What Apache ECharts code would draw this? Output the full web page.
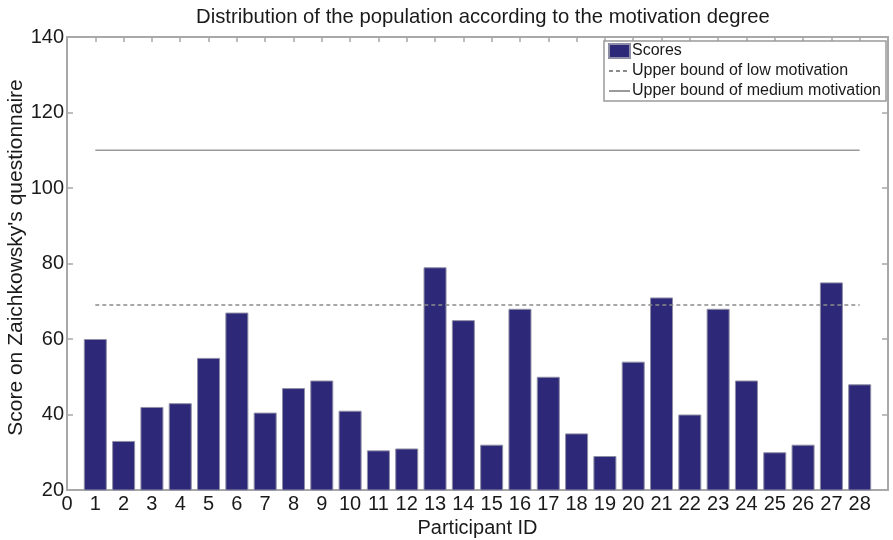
<!DOCTYPE html>
<html>
<head>
<meta charset="utf-8">
<script src="https://cdn.jsdelivr.net/npm/echarts@6/dist/echarts.min.js"></script>
<style>
  html, body { margin: 0; padding: 0; background: #fff; }
  #chart { width: 893px; height: 540px; }
</style>
</head>
<body>
<div id="chart"></div>
<script>
// Participant IDs and their Zaichkowsky questionnaire scores
const participants = [1, 2, 3, 4, 5, 6, 7, 8, 9, 10, 11, 12, 13, 14, 15, 16, 17, 18, 19, 20, 21, 22, 23, 24, 25, 26, 27, 28];
const scores = [60, 33, 42, 43, 55, 67, 40.5, 47, 49, 41, 30.5, 31, 79, 65, 32, 68, 50, 35, 29, 54, 71, 40, 68, 49, 30, 32, 75, 48];

// Motivation thresholds, drawn from the first to the last participant
const lowBound = 69;
const mediumBound = 110;
const boundSpan = [1, 28];

// Axis settings
const xTicks = [0, 28];
const yTicks = [20, 140];

const FONT = '"Liberation Sans", Arial, sans-serif';
const AXIS_GREY = '#a8a8a8';
const TEXT = '#1a1a1a';

const barData = participants.map((p, i) => [p, scores[i]]);
const lowLine = boundSpan.map(x => [x, lowBound]);
const midLine = boundSpan.map(x => [x, mediumBound]);

function xAxisCfg(pos, showLabels) {
  return {
    type: 'value', position: pos, min: xTicks[0], max: xTicks[1] + 1, interval: 1,
    axisLine: { show: true, onZero: false, lineStyle: { color: AXIS_GREY, width: 2 } },
    axisTick: { show: true, inside: true, length: 5, lineStyle: { color: AXIS_GREY, width: 1.5 } },
    axisLabel: {
      show: showLabels, color: TEXT, fontFamily: FONT, fontSize: 20, margin: 4,
      formatter: v => (v <= xTicks[1] ? String(v) : '')
    },
    splitLine: { show: false }
  };
}
function yAxisCfg(pos, showLabels) {
  return {
    type: 'value', position: pos, min: yTicks[0], max: yTicks[1], interval: 20,
    axisLine: { show: true, onZero: false, lineStyle: { color: AXIS_GREY, width: 2 } },
    axisTick: { show: true, inside: true, length: 6, lineStyle: { color: AXIS_GREY, width: 1.5 } },
    axisLabel: { show: showLabels, color: TEXT, fontFamily: FONT, fontSize: 20, margin: 3 },
    splitLine: { show: false }
  };
}

const xBottom = xAxisCfg('bottom', true);
xBottom.name = 'Participant ID';
xBottom.nameLocation = 'middle';
xBottom.nameGap = 24;
xBottom.nameTextStyle = { color: TEXT, fontFamily: FONT, fontSize: 20 };

const yLeft = yAxisCfg('left', true);
yLeft.name = "Score on Zaichkowsky's questionnaire";
yLeft.nameLocation = 'middle';
yLeft.nameRotate = 90;
yLeft.nameGap = 40;
yLeft.nameMoveOverlap = false;
yLeft.nameTextStyle = { color: TEXT, fontFamily: FONT, fontSize: 21, padding: [0, 0, 0, 12] };

// Hides the marker circle on the line entries so only the line sample shows
const hiddenMarker = { opacity: 0 };

const chart = echarts.init(document.getElementById('chart'), null, { renderer: 'canvas' });
chart.setOption({
  animation: false,
  backgroundColor: '#fff',
  title: {
    text: 'Distribution of the population according to the motivation degree',
    left: 191, top: 2,
    textStyle: { color: TEXT, fontFamily: FONT, fontSize: 20.3, fontWeight: 'normal' }
  },
  grid: { left: 67, right: 5, top: 37, bottom: 50, containLabel: false, outerBoundsMode: 'none' },
  legend: {
    orient: 'vertical', right: 7, top: 41, align: 'left',
    backgroundColor: '#fff', borderColor: '#9a9a9a', borderWidth: 1.5, borderRadius: 0,
    padding: [2, 5, 2, 4], itemGap: 4, itemWidth: 21, itemHeight: 14,
    textStyle: { color: TEXT, fontFamily: FONT, fontSize: 16, padding: [0, 0, 0, -3] },
    data: [
      { name: 'Scores', icon: 'rect' },
      { name: 'Upper bound of low motivation', itemStyle: hiddenMarker },
      { name: 'Upper bound of medium motivation', itemStyle: hiddenMarker }
    ]
  },
  xAxis: [xBottom, xAxisCfg('top', false)],
  yAxis: [yLeft, yAxisCfg('right', false)],
  series: [
    {
      name: 'Scores', type: 'bar', data: barData, barWidth: 23,
      itemStyle: { color: '#2e2878', borderColor: '#8e8ea6', borderWidth: 1 }
    },
    {
      name: 'Upper bound of low motivation', type: 'line', data: lowLine,
      symbol: 'none', color: '#8a8a8a',
      lineStyle: { color: '#8a8a8a', width: 1.5, type: [4, 3] }
    },
    {
      name: 'Upper bound of medium motivation', type: 'line', data: midLine,
      symbol: 'none', color: '#9a9a9a',
      lineStyle: { color: '#9a9a9a', width: 1.5, type: 'solid' }
    }
  ]
});
</script>
</body>
</html>
